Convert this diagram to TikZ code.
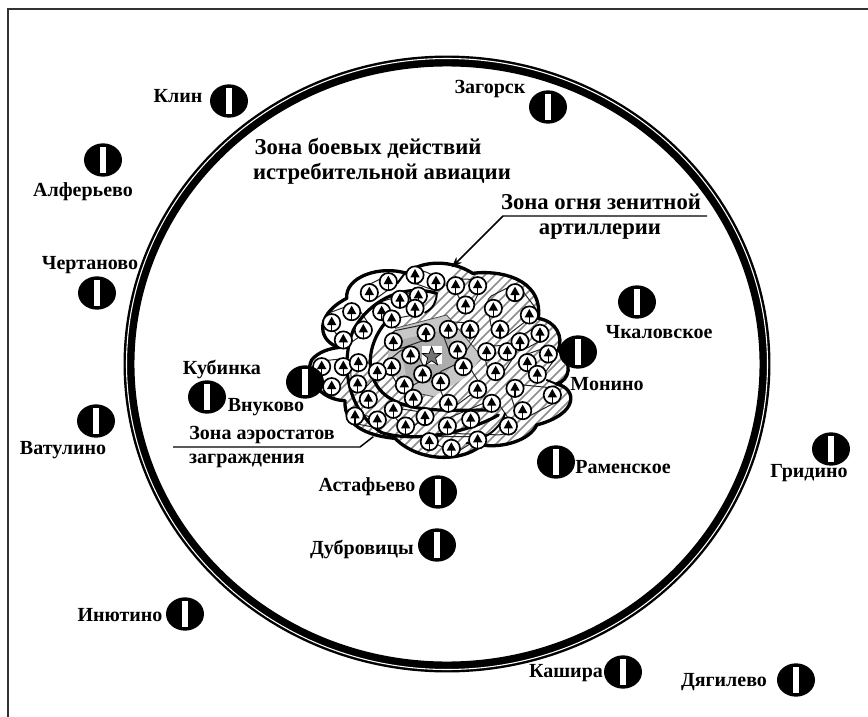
\documentclass[tikz,border=0pt]{standalone}
\usepackage{fontspec}
\setmainfont{Liberation Serif}
\usetikzlibrary{shapes.geometric,arrows.meta}
\tikzset{
  lab/.style={font=\bfseries\fontsize{15}{16}\selectfont,inner sep=0pt,text=black},
  bigl/.style={font=\bfseries\fontsize{17}{18}\selectfont,inner sep=0pt,text=black},
  sym/.style={ellipse,fill=black,inner sep=0pt,minimum width=28.5pt,minimum height=25pt},
  unitc/.style={circle,draw=black,line width=1.25pt,fill=white,inner sep=0pt,minimum size=13pt},
  grp/.style={draw=black!85,line width=0.75pt,rounded corners=4pt},
  thickl/.style={draw=black,line width=2.4pt,line cap=round},
  medl/.style={draw=black,line width=1.5pt,line cap=round},
  lead/.style={draw=black,line width=1.1pt},
}
\def\blobpath{(350,100) .. controls (380,70) and (470,50) .. (548,100)
 .. controls (620,90) and (760,110) .. (745,235)
 .. controls (800,245) and (820,290) .. (805,330)
 .. controls (850,370) and (840,420) .. (800,432)
 .. controls (860,445) and (870,520) .. (740,555)
 .. controls (720,600) and (640,625) .. (575,615)
 .. controls (520,665) and (390,670) .. (315,595)
 .. controls (260,590) and (160,570) .. (165,482)
 .. controls (90,480) and (40,410) .. (65,360)
 .. controls (85,335) and (120,325) .. (150,322)
 .. controls (90,310) and (65,230) .. (170,175)
 .. controls (165,110) and (270,75) .. (350,100) -- cycle}
\begin{document}
\begin{tikzpicture}[x=0.75pt,y=-0.75pt]
\useasboundingbox (0,0) rectangle (868,717);
\fill[white] (0,0) rectangle (868,717);
% frame
\coordinate (fa) at (8,717); \coordinate (fb) at (8,9); \coordinate (fc) at (868,9);
\draw[line width=1.1pt,draw=black!80] (fa) -- (fb) -- (fc);
% fighter zone ring
\draw[line width=8.2pt] (447,364) ellipse [x radius=318,y radius=303];
\draw[white,line width=0.8pt] (447,364) ellipse [x radius=320.5,y radius=305.5];
% the blob (zoomed coordinates: 1 unit = 1/3 px)
\begin{scope}[shift={(290,240)},x=0.25pt,y=-0.25pt]
  \begin{scope}
    \clip \blobpath;
    \foreach \o in {-100,-70,...,1500} \draw[black!45,line width=1.15pt] (\o,700) -- (\o+700,0);
    \fill[black!22] (315,265) -- (470,225) -- (575,350) -- (530,410) -- (430,470) -- (340,450) -- (290,360) -- cycle;
    \fill[black!32] (330,300) -- (460,270) -- (520,350) -- (430,430) -- (350,420) -- cycle;
    \fill[white] (395,318) rectangle (455,372);
    \draw[black!70,line width=.6pt] (315,265) -- (470,225) -- (575,350) (430,470) -- (340,450);
  \end{scope}
  \node[star,star points=5,star point ratio=2.4,draw=black,fill=black!55,line width=.5pt,inner sep=0pt,minimum size=15pt] (centre) at (425,350) {};
  % group outlines
  \foreach \g in {
    {(475,115)--(585,120)--(535,222)--cycle},
    {(590,175)--(680,130)--(745,215)--(640,295)--(605,270)--cycle},
    {(100,225)--(195,190)--(245,265)--(165,320)--cycle},
    {(215,145)--(305,100)--(322,130)--(245,185)--cycle},
    {(300,275)--(420,250)--(432,290)--(320,330)--cycle},
    {(450,260)--(475,245)--(560,250)--(565,280)--(515,352)--(480,340)--cycle},
    {(340,325)--(285,370)--(335,455)--(415,410)--(380,335)--cycle},
    {(575,320)--(660,315)--(675,345)--(625,420)--(600,410)--cycle},
    {(670,300)--(750,255)--(775,290)--(700,330)--cycle},
    {(690,350)--(775,320)--(800,350)--(745,425)--(720,390)--cycle},
    {(75,365)--(170,355)--(185,385)--(135,460)--(105,450)--cycle},
    {(180,350)--(280,385)--(215,455)--(185,445)--cycle},
    {(440,400)--(525,360)--(575,440)--(480,510)--(450,450)--cycle},
    {(650,430)--(800,445)--(810,480)--(705,535)--(680,520)--cycle},
    {(175,510)--(285,545)--(270,565)--(190,550)--cycle},
    {(290,500)--(420,520)--(350,575)--cycle},
    {(450,545)--(615,475)--(675,565)--(640,585)--(470,580)--cycle},
    {(395,590)--(575,590)--(495,640)--cycle},
    {(350,105)--(395,90)--(460,120)--(430,150)--(360,125)--cycle},
    {(255,190)--(395,150)--(400,220)--(290,240)--cycle}
  }{ \path[grp] \g; }
  % thick inner zone arcs
  \draw[thickl] (440,160) .. controls (340,130) and (240,180) .. (190,270)
     .. controls (150,370) and (170,510) .. (275,578);
  \draw[medl] (440,160) .. controls (440,185) and (430,205) .. (405,218);
  \draw[thickl] (310,225) .. controls (230,290) and (210,420) .. (300,475)
     .. controls (370,520) and (500,510) .. (590,510);
  \draw[thickl] (275,578) .. controls (380,610) and (540,575) .. (625,525);
  \draw[medl] (170,300) -- (150,322) (530,610) .. controls (580,600) and (630,570) .. (645,520);
  \draw[medl] (348,95) -- (322,130);
  \draw[medl] (745,235) -- (720,240) (805,330) -- (775,340) (800,432) -- (770,420);
  % outline
  \draw[line width=2.5pt,line join=round] \blobpath;
  % units
  \foreach \ux/\uy [count=\i] in {497/137,563/137,527/195,610/205,675/158,718/225,630/268,
    125/248,185/215,220/270,160/300,238/158,295/125,375/105,438/125,330/178,385/168,375/205,275/215,305/237,
    475/268,540/268,503/330,408/278,310/305,362/345,305/380,398/402,343/435,
    590/335,652/335,617/395,690/305,750/280,712/368,775/342,742/403,
    95/380,160/380,125/440,205/368,262/395,203/432,235/478,
    195/528,262/540,310/508,347/558,405/530,370/475,
    452/425,520/380,475/490,563/448,605/490,542/538,472/558,655/558,
    675/445,787/465,698/512,418/605,484/625,563/600}{
    \node[unitc] (u\i) at (\ux,\uy) {};
    \fill[black] (\ux-14,\uy+7) -- (\ux,\uy-18) -- (\ux+14,\uy+7) -- cycle;
    \draw[line width=.8pt] (\ux,\uy) -- (\ux,\uy+24);
  }
  \coordinate (arrowend) at (485,82);
  \coordinate (balloonend) at (250,590);
\end{scope}
% airfields
\foreach \n/\sx/\sy in {klin/229/101,alf/103/160,cher/97/293,vat/96/421,kub/207/397,vnu/305/382,zag/548/107,
   chk/637/302,mon/578/352,ram/556/462,gri/831/449,ast/438/492,dub/437/545,inu/185/614,kash/623/672,dya/796/680}{
  \node[sym] (\n) at (\sx,\sy) {};
  \fill[white] (\sx-3,\sy-13) rectangle (\sx+3,\sy+13);
}
% labels
\node[lab] (lklin) at (178,96) {Клин};
\node[lab] (lalf) at (83,192) {Алферьево};
\node[lab] (lcher) at (90,265) {Чертаново};
\node[lab] (lkub) at (222,369) {Кубинка};
\node[lab] (lvnu) at (266,407) {Внуково};
\node[lab] (lvat) at (63,450) {Ватулино};
\node[lab] (lzag) at (490,89) {Загорск};
\node[lab] (lchk) at (659,332) {Чкаловское};
\node[lab] (lmon) at (607,384) {Монино};
\node[lab] (lram) at (623,467) {Раменское};
\node[lab] (lgri) at (809,473) {Гридино};
\node[lab] (last) at (367,487) {Астафьево};
\node[lab] (ldub) at (362,549) {Дубровицы};
\node[lab] (linu) at (120,615) {Инютино};
\node[lab] (lkash) at (566,673) {Кашира};
\node[lab] (ldya) at (724,682) {Дягилево};
\node[bigl] (z1a) at (368,148) {Зона боевых действий};
\node[bigl] (z1b) at (382,174) {истребительной авиации};
\node[bigl] (z2a) at (601,202) {Зона огня зенитной};
\node[bigl] (z2b) at (600,232) {артиллерии};
\node[lab] (z3a) at (262,435) {Зона аэростатов};
\node[lab] (z3b) at (247,461) {заграждения};
% leaders
\coordinate (l1a) at (707,216); \coordinate (l1b) at (503,216);
\draw[lead,-{Stealth[length=8pt,width=6pt]}] (l1a) -- (l1b) -- (arrowend);
\coordinate (l2a) at (173,447); \coordinate (l2b) at (360,447);
\draw[lead] (l2a) -- (l2b) -- (balloonend);
\end{tikzpicture}
\end{document}
